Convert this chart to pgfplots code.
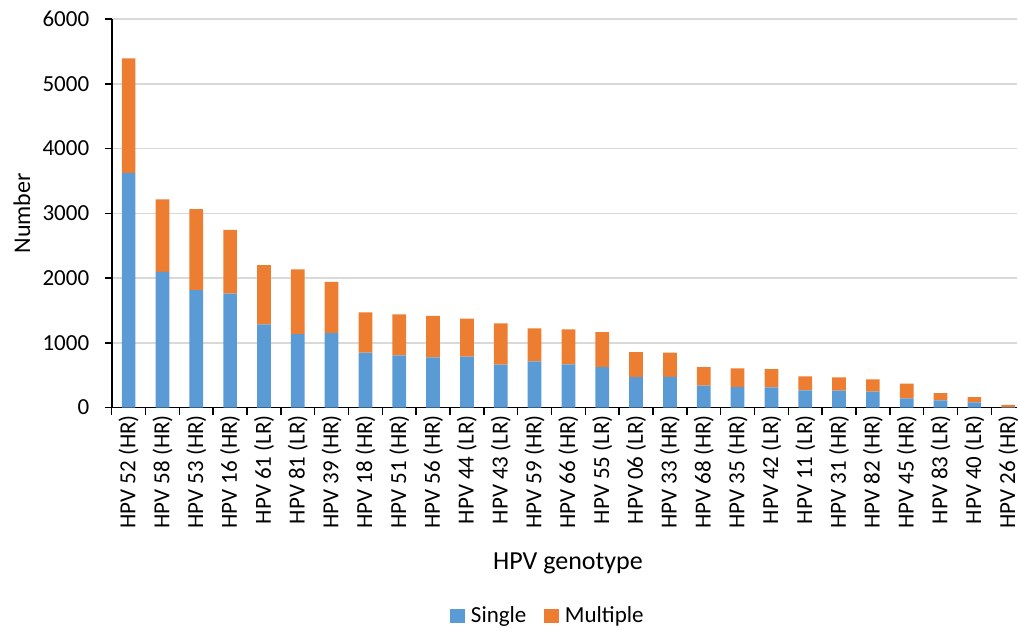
\documentclass[border=0pt]{standalone}
\usepackage{pgfplots}
\pgfplotsset{compat=1.18}
\usepackage{pgfplotstable}
\usepackage{fontspec}
\setmainfont{Carlito}

\definecolor{singleblue}{HTML}{5B9BD5}
\definecolor{multorange}{HTML}{ED7D31}
\definecolor{gridgray}{HTML}{D9D9D9}

% x, single infections, multiple infections
\pgfplotstableread{
x single multiple
0  3623 1770
1  2096 1117
2  1813 1250
3  1757 987
4  1284 915
5  1134 998
6  1150 791
7  846  623
8  805  633
9  775  642
10 784  587
11 661  638
12 713  509
13 667  540
14 625  540
15 471  386
16 475  371
17 337  288
18 314  291
19 312  282
20 265  216
21 260  206
22 244  191
23 142  226
24 111  113
25 80   82
26 5    34
}\hpvdata

\begin{document}
\begin{tikzpicture}[font=\fontsize{22}{26}\selectfont]
\begin{axis}[
    at={(0,0)}, anchor=south west,
    scale only axis,
    width=905.3pt, height=388.5pt,
    xmin=-0.5, xmax=26.26,
    ymin=0, ymax=6000,
    ybar stacked,
    bar width=13.7pt,
    axis x line*=bottom,
    axis y line*=left,
    axis line style={line width=1.8pt},
    tick align=outside,
    xtick=data,
    xticklabels={HPV 52 (HR),HPV 58 (HR),HPV 53 (HR),HPV 16 (HR),HPV 61 (LR),HPV 81 (LR),HPV 39 (HR),HPV 18 (HR),HPV 51 (HR),HPV 56 (HR),HPV 44 (LR),HPV 43 (LR),HPV 59 (HR),HPV 66 (HR),HPV 55 (LR),HPV 06 (LR),HPV 33 (HR),HPV 68 (HR),HPV 35 (HR),HPV 42 (LR),HPV 11 (LR),HPV 31 (HR),HPV 82 (HR),HPV 45 (HR),HPV 83 (LR),HPV 40 (LR),HPV 26 (HR)},
    x tick label style={rotate=90, anchor=east, font=\fontsize{23}{27}\selectfont},
    xticklabel shift=-3pt,
    major x tick style={draw=none},
    minor xtick={-0.5,0.5,...,25.5},
    minor x tick style={black, line width=1.5pt},
    minor tick length=7pt,
    ytick={0,1000,...,6000},
    y tick style={black, line width=1.5pt},
    y tick label style={font=\fontsize{23}{27}\selectfont},
    yticklabel shift=12pt,
    major tick length=7pt,
    ymajorgrids,
    grid style={gridgray, line width=1.5pt},
    /pgf/number format/assume math mode=true,
    /pgf/number format/1000 sep={},
    ylabel={Number},
    ylabel style={at={(axis description cs:-0.0991,0.5)}, anchor=center, font=\fontsize{24}{28}\selectfont},
    xlabel={HPV genotype},
    xlabel style={at={(axis description cs:0.504,-0.400)}, anchor=center, font=\fontsize{26}{30}\selectfont},
    legend style={at={(axis description cs:0.482,-0.536)}, anchor=center,
        draw=none, legend columns=2, font=\fontsize{23}{27}\selectfont,
        /tikz/every odd column/.append style={column sep=4pt},
        /tikz/every even column/.append style={column sep=16pt}},
    legend image code/.code={\path[#1] (0pt,-7pt) rectangle (14.5pt,7pt);},
]
\addplot[fill=singleblue, draw=none] table[x=x, y=single] {\hpvdata};
\addplot[fill=multorange, draw=none] table[x=x, y=multiple] {\hpvdata};
\legend{Single, Multiple}
\end{axis}
\pgfresetboundingbox
\path[use as bounding box] (-111.7pt,-222.5pt) rectangle (907.3pt,407.5pt);
\end{tikzpicture}
\end{document}
